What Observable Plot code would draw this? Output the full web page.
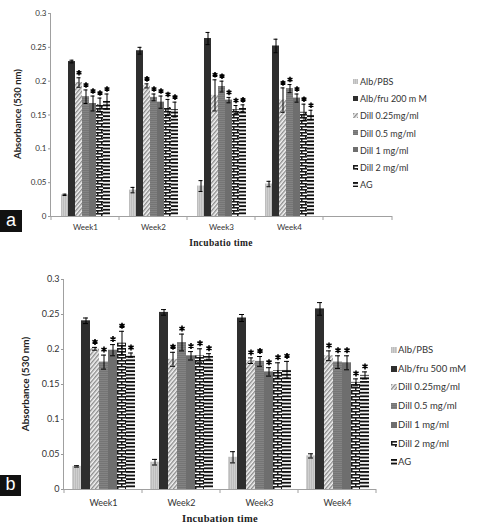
<!DOCTYPE html>
<html><head><meta charset="utf-8">
<script src="https://cdn.jsdelivr.net/npm/d3@7"></script>
<script src="https://cdn.jsdelivr.net/npm/@observablehq/plot@0.6"></script>
<style>
body{margin:0;background:#fff;}
#root{position:relative;width:478px;height:525px;overflow:hidden;font-family:Lato,sans-serif;}
.panel{position:absolute;left:0;}
.ytitle{position:absolute;font-weight:bold;white-space:nowrap;transform:translate(-50%,-50%) rotate(-90deg);color:#222;}
.xtitle{position:absolute;font-family:"Liberation Serif",serif;font-weight:bold;white-space:nowrap;transform:translate(-50%,-50%);color:#222;letter-spacing:0.3px;}
.badge{position:absolute;background:#111;color:#fff;font-family:"Liberation Sans",Arial,sans-serif;text-align:center;}
.lrow{position:absolute;white-space:nowrap;color:#333;transform:translateY(-50%);line-height:1;}
.lsw{position:absolute;}
</style></head><body>
<svg width="0" height="0" style="position:absolute">
<defs>
<pattern id="p-pbs" patternUnits="userSpaceOnUse" width="2" height="4">
<rect width="2" height="4" fill="#cfcfcf"/><rect width="1" height="4" fill="#bdbdbd"/></pattern>
<pattern id="p-d025" patternUnits="userSpaceOnUse" width="3" height="10" patternTransform="rotate(40)">
<rect width="3" height="10" fill="#f4f4f4"/><rect width="1.4" height="10" fill="#8c8c8c"/></pattern>
<pattern id="p-d05" patternUnits="userSpaceOnUse" width="4" height="2">
<rect width="4" height="2" fill="#838383"/><rect width="4" height="0.8" fill="#727272"/></pattern>
<pattern id="p-d2" patternUnits="userSpaceOnUse" width="8" height="6">
<rect width="8" height="6" fill="#ffffff"/>
<rect y="0" width="8" height="1.6" fill="#1a1a1a"/>
<rect y="3" width="8" height="1.6" fill="#1a1a1a"/>
<rect x="0" y="0" width="1.5" height="3" fill="#1a1a1a"/>
<rect x="4" y="3" width="1.5" height="3" fill="#1a1a1a"/></pattern>
<pattern id="p-ag" patternUnits="userSpaceOnUse" width="4" height="3.6">
<rect width="4" height="3.6" fill="#ffffff"/><rect width="4" height="1.9" fill="#111"/></pattern>
</defs></svg>
<div id="root"></div>
<script>
// ---------- data ----------
const weeks = ["Week1", "Week2", "Week3", "Week4"];
const seriesA = ["Alb/PBS", "Alb/fru 200 m M", "Dill 0.25mg/ml", "Dill 0.5 mg/ml", "Dill 1 mg/ml", "Dill 2 mg/ml", "AG"];
const seriesB = ["Alb/PBS", "Alb/fru 500 mM", "Dill 0.25mg/ml", "Dill 0.5 mg/ml", "Dill 1 mg/ml", "Dill 2 mg/ml", "AG"];
const starred = [false, false, true, true, true, true, true];
const yTicks = [0, 0.05, 0.1, 0.15, 0.2, 0.25, 0.3];

// panel a means (Week1..Week4)
const a_pbs  = [0.032, 0.039, 0.045, 0.048];
const a_fru  = [0.229, 0.245, 0.263, 0.252];
const a_d025 = [0.198, 0.193, 0.179, 0.172];
const a_d05  = [0.177, 0.176, 0.192, 0.189];
const a_d1   = [0.167, 0.169, 0.172, 0.175];
const a_d2   = [0.165, 0.161, 0.158, 0.154];
const a_ag   = [0.170, 0.158, 0.160, 0.150];
// panel a errors
const a_pbs_e  = [0.001, 0.004, 0.008, 0.004];
const a_fru_e  = [0.002, 0.005, 0.009, 0.010];
const a_d025_e = [0.007, 0.003, 0.023, 0.018];
const a_d05_e  = [0.010, 0.005, 0.008, 0.006];
const a_d1_e   = [0.011, 0.009, 0.004, 0.006];
const a_d2_e   = [0.010, 0.012, 0.006, 0.012];
const a_ag_e   = [0.011, 0.011, 0.005, 0.007];

// panel b means
const b_pbs  = [0.033, 0.039, 0.046, 0.048];
const b_fru  = [0.241, 0.253, 0.245, 0.258];
const b_d025 = [0.201, 0.186, 0.184, 0.191];
const b_d05  = [0.182, 0.210, 0.183, 0.182];
const b_d1   = [0.199, 0.191, 0.168, 0.181];
const b_d2   = [0.209, 0.191, 0.170, 0.153];
const b_ag   = [0.192, 0.190, 0.171, 0.163];
// panel b errors
const b_pbs_e  = [0.001, 0.004, 0.008, 0.003];
const b_fru_e  = [0.004, 0.004, 0.005, 0.009];
const b_d025_e = [0.002, 0.010, 0.004, 0.007];
const b_d05_e  = [0.010, 0.012, 0.007, 0.009];
const b_d1_e   = [0.008, 0.006, 0.006, 0.010];
const b_d2_e   = [0.017, 0.010, 0.011, 0.005];
const b_ag_e   = [0.003, 0.004, 0.012, 0.005];

const fills = ["url(#p-pbs)", "#2e2e2e", "url(#p-d025)", "url(#p-d05)", "#6e6e6e", "url(#p-d2)", "url(#p-ag)"];

function rows(series, means, errs) {
  const out = [];
  weeks.forEach((w, i) => series.forEach((s, j) =>
    out.push({week: w, series: s, v: means[j][i], e: errs[j][i], star: starred[j]})));
  return out;
}
const dataA = rows(seriesA, [a_pbs, a_fru, a_d025, a_d05, a_d1, a_d2, a_ag],
  [a_pbs_e, a_fru_e, a_d025_e, a_d05_e, a_d1_e, a_d2_e, a_ag_e]);
const dataB = rows(seriesB, [b_pbs, b_fru, b_d025, b_d05, b_d1, b_d2, b_ag],
  [b_pbs_e, b_fru_e, b_d025_e, b_d05_e, b_d1_e, b_d2_e, b_ag_e]);

const root = document.getElementById("root");

function panel(o) {
  const plot = Plot.plot({
    width: 478, height: o.height,
    marginLeft: o.ml, marginRight: o.mr, marginTop: o.mt, marginBottom: o.mb,
    style: {fontFamily: "Lato, sans-serif", fontSize: o.fs + "px", color: "#333", background: "transparent", overflow: "visible"},
    fx: {domain: o.fxDomain, padding: 0, axis: null},
    x: {domain: o.series, paddingInner: 0, paddingOuter: 0.77, axis: null},
    y: {domain: [0, 0.3], axis: null},
    color: {type: "ordinal", domain: o.series, range: fills},
    marks: [
      Plot.axisY({ticks: yTicks, tickSize: 3, tickPadding: 2, tickFormat: d => String(d), label: null, stroke: "#999", fill: "#333"}),
      Plot.axisFx({anchor: "bottom", tickSize: 0, tickPadding: o.fxPad, label: null, fill: "#333",
        tickFormat: d => weeks.includes(d) ? d : ""}),
      Plot.barY(o.data, {fx: "week", x: "series", y: "v", fill: "series"}),
      Plot.ruleX(o.data, {fx: "week", x: "series", y1: d => d.v - d.e, y2: d => d.v + d.e, stroke: "#000", strokeWidth: 1}),
      Plot.tickY(o.data, {fx: "week", x: "series", y: d => d.v + d.e, stroke: "#000", insetLeft: o.cap, insetRight: o.cap}),
      Plot.tickY(o.data, {fx: "week", x: "series", y: d => d.v - d.e, stroke: "#000", insetLeft: o.cap, insetRight: o.cap}),
      Plot.dot(o.data.filter(d => d.star), {fx: "week", x: "series", y: d => d.v + d.e, symbol: "asterisk",
        r: o.starR, stroke: "#000", strokeWidth: 1.6, dy: o.starDy})
    ]
  });
  // axis lines & category boundary ticks drawn from the plot's own scales
  const fx = plot.scale("fx"), y = plot.scale("y");
  const svg = d3.select(plot);
  const x0 = fx.range[0], x1 = fx.range[1], y0 = y.apply(0), yTop = y.apply(0.3);
  const g = svg.append("g").attr("stroke", "#a0a0a0").attr("stroke-width", 1);
  g.append("line").attr("x1", x0).attr("x2", x1).attr("y1", y0 + 0.5).attr("y2", y0 + 0.5);
  g.append("line").attr("x1", x0 + 0.5).attr("x2", x0 + 0.5).attr("y1", yTop).attr("y2", y0 + 0.5);
  [...fx.domain.map(d => fx.apply(d)), x1].forEach(px =>
    g.append("line").attr("x1", px).attr("x2", px).attr("y1", y0).attr("y2", y0 + 4));
  plot.classList.add("panel");
  plot.style.top = o.top + "px";
  root.appendChild(plot);
}

panel({data: dataA, series: seriesA, top: 0, height: 252, ml: 50, mr: 86, mt: 13, mb: 36,
  fxDomain: [...weeks, "blank"], fs: 8, fxPad: 8, cap: 1.5, starR: 2.6, starDy: -5});
panel({data: dataB, series: seriesB, top: 255, height: 270, ml: 63, mr: 102, mt: 24, mb: 36,
  fxDomain: weeks, fs: 9, fxPad: 10, cap: 2, starR: 2.8, starDy: -5.5});

function addText(cls, txt, x, y, fs) {
  const d = document.createElement("div");
  d.className = cls; d.textContent = txt;
  d.style.left = x + "px"; d.style.top = y + "px"; d.style.fontSize = fs + "px";
  root.appendChild(d);
}
addText("ytitle", "Absorbance (530 nm)", 17, 114, 9.5);
addText("ytitle", "Absorbance (530 nm)", 25, 384, 10);
addText("xtitle", "Incubatio time", 221, 243, 9.5);
addText("xtitle", "Incubation time", 220, 518, 10.5);

function badge(t, x, y, w, h) {
  const d = document.createElement("div");
  d.className = "badge"; d.textContent = t;
  Object.assign(d.style, {left: x + "px", top: y + "px", width: w + "px", height: h + "px", fontSize: "18px", lineHeight: (h - 2) + "px"});
  root.appendChild(d);
}
badge("a", 0, 210, 22, 22);
badge("b", 0, 475, 21, 21);

function legend(series, sx, tx, y0, step, sw, fs) {
  series.forEach((s, i) => {
    const cy = y0 + i * step;
    const ns = "http://www.w3.org/2000/svg";
    const sv = document.createElementNS(ns, "svg");
    sv.setAttribute("width", sw); sv.setAttribute("height", sw);
    sv.setAttribute("class", "lsw");
    sv.style.left = sx + "px"; sv.style.top = (cy - sw / 2) + "px";
    const r = document.createElementNS(ns, "rect");
    r.setAttribute("width", sw); r.setAttribute("height", sw); r.setAttribute("fill", fills[i]);
    sv.appendChild(r); root.appendChild(sv);
    addText("lrow", s, tx, cy, fs);
  });
}
legend(seriesA, 353, 360, 81, 17.2, 5, 9);
legend(seriesB, 391, 398, 350, 18.7, 6, 9.5);
</script>
</body></html>
